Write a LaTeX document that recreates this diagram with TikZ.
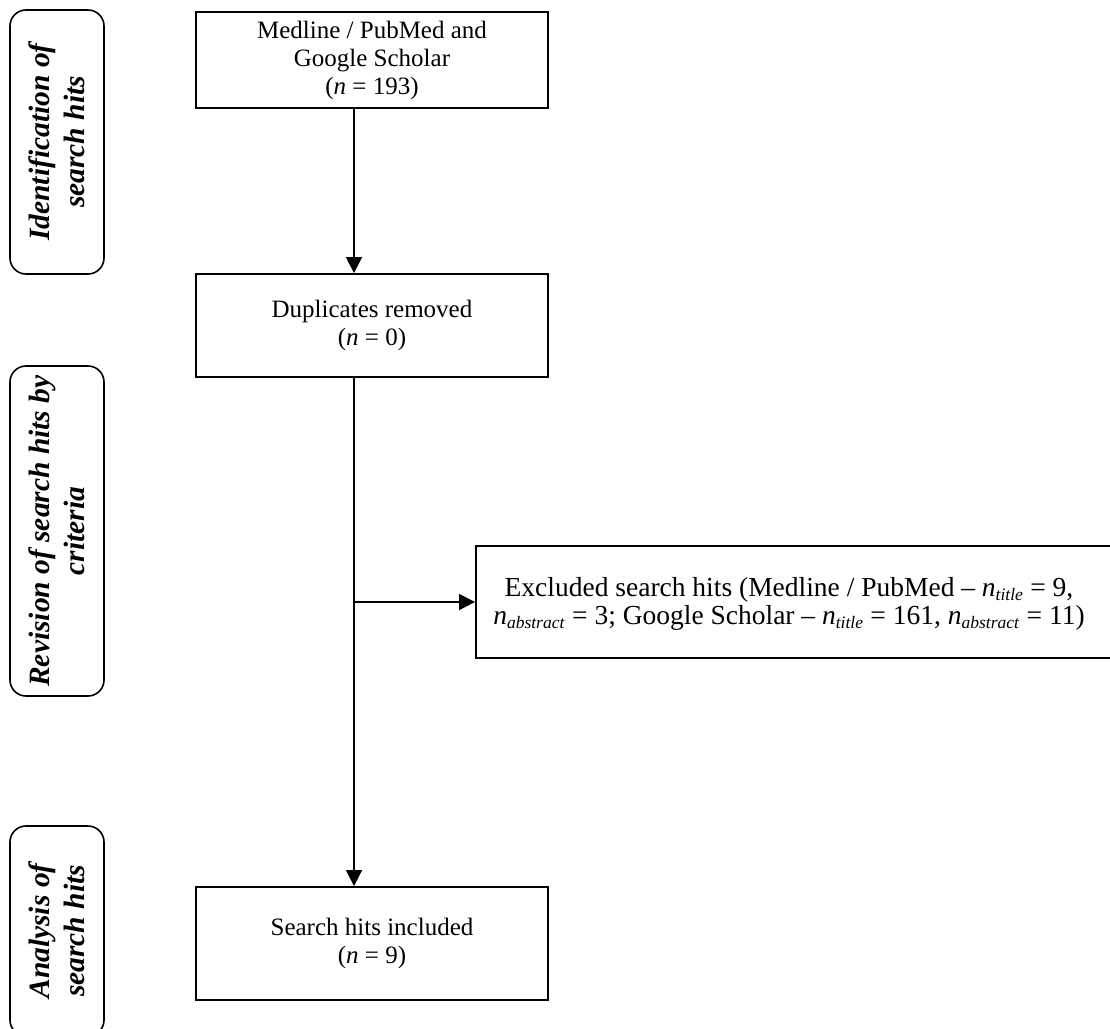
\documentclass[tikz,border=0pt]{standalone}
\usepackage{fontspec}
\setmainfont{Liberation Serif}
\usetikzlibrary{arrows.meta}
\newcommand\nsub[1]{\textit{n}\textsubscript{\fontsize{17.5}{17.5}\selectfont\textit{#1}}}
\begin{document}
\begin{tikzpicture}[x=1pt,y=-1pt,
  box/.style={draw, line width=1.8pt, rectangle, align=center,
    font=\fontsize{25}{28}\selectfont, inner sep=0pt, minimum width=352pt},
  sidebox/.style={draw, line width=1.6pt, rounded corners=16pt, rotate=90,
    align=center, font=\fontsize{29.5}{35}\selectfont\bfseries\itshape,
    inner sep=0pt, minimum height=94pt},
  conn/.style={line width=1.6pt, -{Triangle[length=16pt,width=16pt]}},
  txt/.style={align=center, font=\fontsize{27.5}{28}\selectfont, inner sep=0pt}]
\useasboundingbox (0,0) rectangle (1110,1028);

% side boxes
\node[sidebox, minimum width=264pt] (s1) at (57,142) {Identification of\\search hits};
\node[sidebox, minimum width=330pt] (s2) at (57,531) {Revision of search hits by\\criteria};
\node[sidebox, minimum width=210pt] (s3) at (57,931) {Analysis of\\search hits};

% main boxes
\node[box, minimum height=96pt] (top) at (372,60) {Medline / PubMed and\\Google Scholar\\(\textit{n} = 193)};
\node[box, minimum height=103pt] (dup) at (372,325.5) {Duplicates removed\\(\textit{n} = 0)};
\node[box, minimum height=113pt] (inc) at (372,943.5) {Search hits included\\(\textit{n} = 9)};
\node[draw, line width=1.8pt, minimum width=636pt, minimum height=112pt, inner sep=0pt] (exbox) at (794,602) {};
\node[txt] (extext) at (789,604) {Excluded search hits (Medline / PubMed -- \nsub{title} = 9,\\
\nsub{abstract} = 3; Google Scholar -- \nsub{title} = 161, \nsub{abstract} = 11)};

% connectors
\coordinate (spine) at (354,0);
\coordinate (br) at (354,602);
\draw[conn] (top.south -| spine) -- (dup.north -| spine);
\draw[conn] (dup.south -| spine) -- (inc.north -| spine);
\draw[conn] (br) -- (exbox.west);
\end{tikzpicture}
\end{document}
